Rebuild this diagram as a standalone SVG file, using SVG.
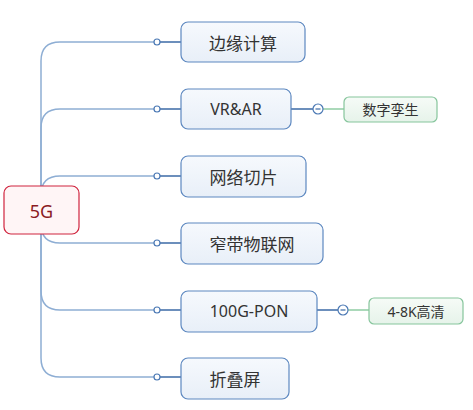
<svg xmlns="http://www.w3.org/2000/svg" width="473" height="410" viewBox="0 0 473 410">
<defs>
<linearGradient id="gb" x1="0" y1="0" x2="0" y2="1"><stop offset="0" stop-color="#f6f9fd"/><stop offset="1" stop-color="#e8eff8"/></linearGradient>
<linearGradient id="gg" x1="0" y1="0" x2="0" y2="1"><stop offset="0" stop-color="#f6fbf7"/><stop offset="1" stop-color="#e6f3ea"/></linearGradient>
</defs>
<style>
.trunk{fill:none;stroke:#8eaed4;stroke-width:1.5}
.stub{fill:none;stroke:#3b6aa6;stroke-width:1.5}
.green{fill:none;stroke:#8fcca3;stroke-width:1.5}
.dot{fill:#fff;stroke:#4a78b4;stroke-width:1.2}
.tog{fill:#fff;stroke:#4a78b4;stroke-width:1.2}
.box{fill:url(#gb);stroke:#5d88c0;stroke-width:1.2}
.gbox{fill:url(#gg);stroke:#86c59c;stroke-width:1.2}
.t{font-family:"Noto Sans","Noto Sans CJK SC",sans-serif;font-size:16px;fill:#333;text-anchor:middle;dominant-baseline:central}
.tc{font-family:"Noto Sans CJK SC",sans-serif;font-size:17px;fill:#333;text-anchor:middle;dominant-baseline:central}
.ts{font-family:"Noto Sans","Noto Sans CJK SC",sans-serif;font-size:14px;fill:#333;text-anchor:middle;dominant-baseline:central}
</style>
<g id="connectors">
<path class="trunk" d="M41 210 V61 Q41 42 60 42 H154"/>
<path class="trunk" d="M41 210 V128 Q41 109 60 109 H154"/>
<path class="trunk" d="M41 210 V195 Q41 176 60 176 H154"/>
<path class="trunk" d="M41 210 V224 Q41 243 60 243 H154"/>
<path class="trunk" d="M41 210 V291 Q41 310 60 310 H154"/>
<path class="trunk" d="M41 210 V358 Q41 377 60 377 H154"/>
<g class="stub">
<path d="M160 42 H181"/><path d="M160 109 H181"/><path d="M160 176 H181"/>
<path d="M160 243 H181"/><path d="M160 310 H181"/><path d="M160 377 H181"/>
<path d="M291 109 H313"/><path d="M317 310 H338"/>
</g>
<path class="green" d="M323 109 H344"/>
<path class="green" d="M348 310 H369"/>
<g>
<circle class="dot" cx="157" cy="42" r="3"/><circle class="dot" cx="157" cy="109" r="3"/>
<circle class="dot" cx="157" cy="176" r="3"/><circle class="dot" cx="157" cy="243" r="3"/>
<circle class="dot" cx="157" cy="310" r="3"/><circle class="dot" cx="157" cy="377" r="3"/>
</g>
<g>
<circle class="tog" cx="318" cy="109" r="5"/><path d="M315.5 109 H320.5" stroke="#3b6aa6" stroke-width="1.2"/>
<circle class="tog" cx="343" cy="310" r="5"/><path d="M340.5 310 H345.5" stroke="#3b6aa6" stroke-width="1.2"/>
</g>
</g>
<g id="root">
<rect x="4" y="186" width="75" height="48" rx="7" fill="#fff5f6" stroke="#d0243e" stroke-width="1.2"/>
<text x="41.5" y="211" font-family="'Noto Sans',sans-serif" font-size="18" fill="#8b1a22" text-anchor="middle" dominant-baseline="central">5G</text>
</g>
<g id="n1"><rect class="box" x="181" y="22" width="124" height="40" rx="7"/><text class="tc" x="243" y="42">边缘计算</text></g>
<g id="n2"><rect class="box" x="181" y="89" width="110" height="40" rx="7"/><text class="t" x="236" y="109">VR&amp;AR</text></g>
<g id="n2a"><rect class="gbox" x="344" y="97" width="93" height="25" rx="5"/><text class="ts" x="390.5" y="109.5">数字孪生</text></g>
<g id="n3"><rect class="box" x="181" y="156" width="125" height="41" rx="7"/><text class="tc" x="243.5" y="176">网络切片</text></g>
<g id="n4"><rect class="box" x="181" y="223" width="142" height="41" rx="7"/><text class="tc" x="252" y="243">窄带物联网</text></g>
<g id="n5"><rect class="box" x="181" y="291" width="136" height="41" rx="7"/><text class="t" x="249" y="311">100G-PON</text></g>
<g id="n5a"><rect class="gbox" x="369" y="298" width="94" height="26" rx="5"/><text class="ts" x="416" y="311">4-8K高清</text></g>
<g id="n6"><rect class="box" x="181" y="358" width="108" height="41" rx="7"/><text class="tc" x="235" y="378">折叠屏</text></g>
</svg>
